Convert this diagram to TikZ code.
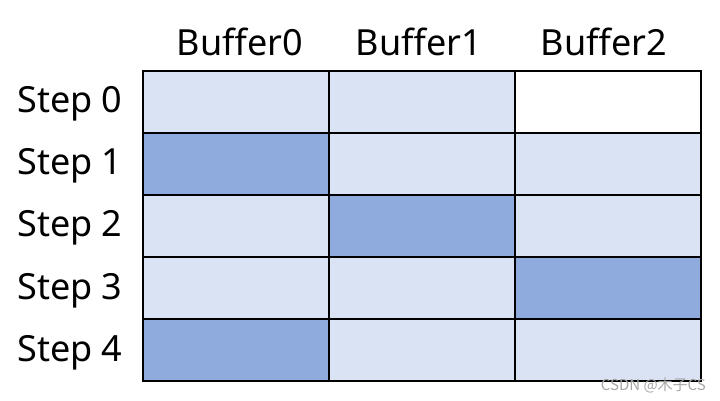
\documentclass[tikz,border=0pt]{standalone}
\usepackage{fontspec}
\setmainfont{Noto Sans}
\newfontfamily\cjk{Noto Sans CJK SC}
\definecolor{lightc}{HTML}{DAE3F3}
\definecolor{darkc}{HTML}{8FAADC}
\begin{document}
\begin{tikzpicture}[x=1pt,y=-1pt,
  cell/.style={draw=black,line width=2pt,fill=lightc,minimum width=186pt,minimum height=62pt,inner sep=0pt,anchor=north west},
  hot/.style={fill=darkc},
  empty/.style={fill=white},
  lab/.style={font=\fontsize{36}{40}\selectfont,inner sep=0pt}]
\useasboundingbox (0,0) rectangle (720,400);
% grid
\foreach \r in {0,...,4}{
  \foreach \c in {0,1,2}{
    \node[cell] (c\r\c) at ({142+186*\c},{70+62*\r}) {};
  }
}
\node[cell,hot] at (c10.north west) {};
\node[cell,hot] at (c21.north west) {};
\node[cell,hot] at (c32.north west) {};
\node[cell,hot] at (c40.north west) {};
\node[cell,empty] at (c02.north west) {};
% column labels
\node[lab] (b0) at (240,42) {Buffer0};
\node[lab] (b1) at (419,42) {Buffer1};
\node[lab] (b2) at (604,42) {Buffer2};
% row labels
\node[lab] (s0) at (70,104) {Step 0};
\node[lab] (s1) at (70,166) {Step 1};
\node[lab] (s2) at (70,228) {Step 2};
\node[lab] (s3) at (70,291) {Step 3};
\node[lab] (s4) at (70,353) {Step 4};
% watermark
\node[text=gray!70,font=\cjk\fontsize{15}{16}\selectfont,inner sep=0pt,anchor=east] (wm) at (706,385) {CSDN @木子CS};
\end{tikzpicture}
\end{document}
